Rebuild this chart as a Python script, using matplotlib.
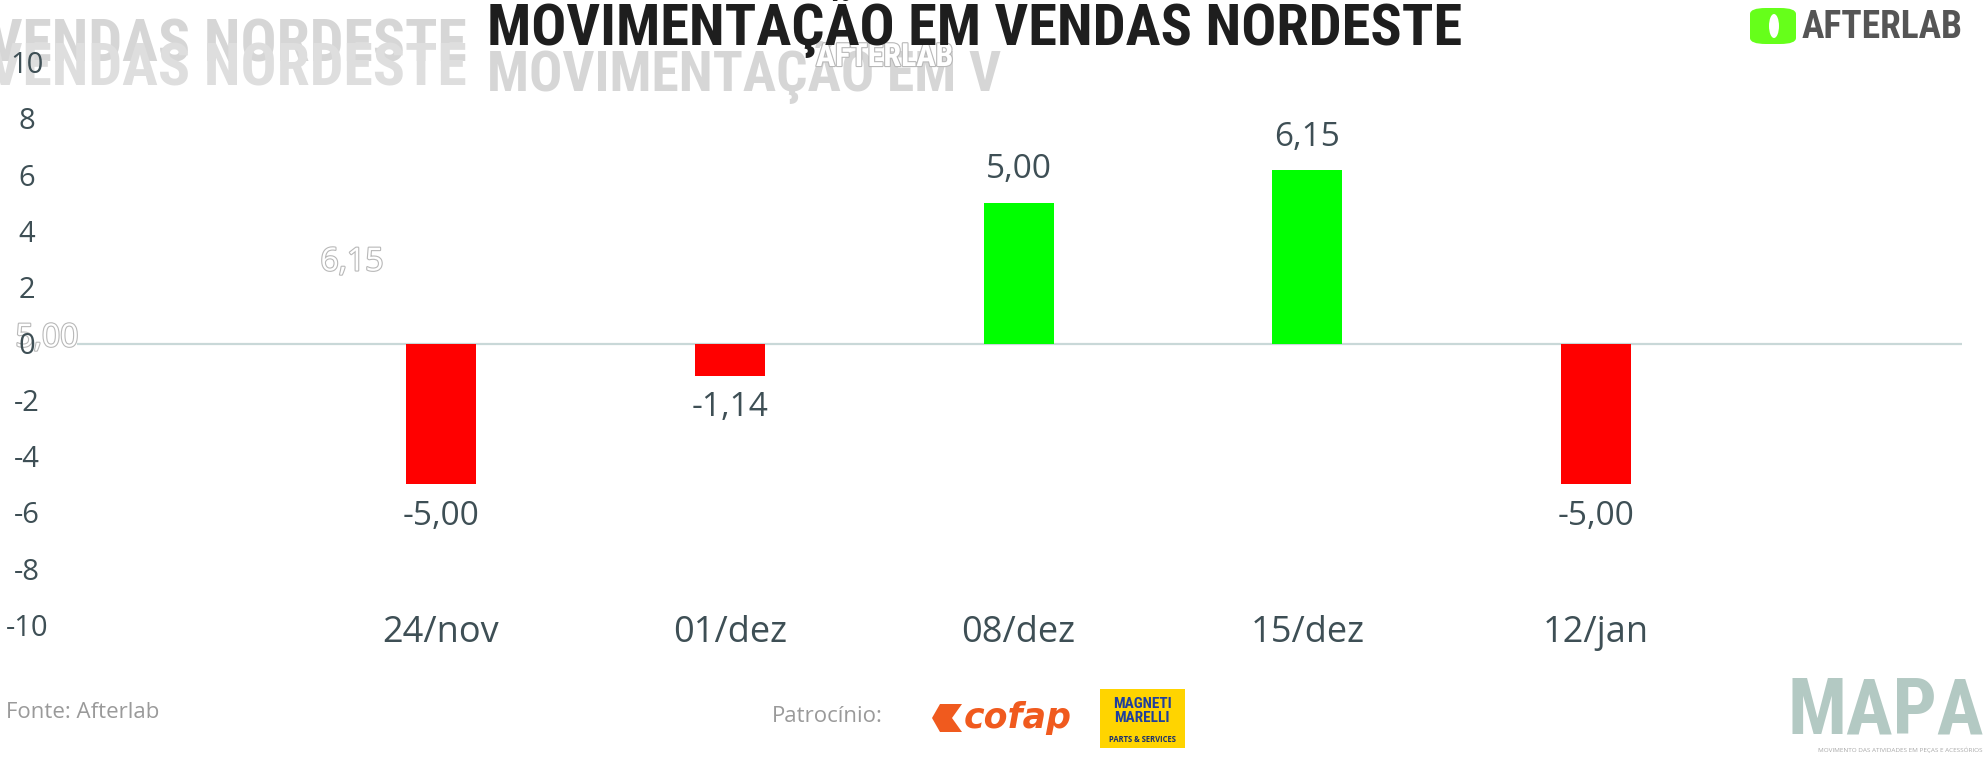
import matplotlib
matplotlib.use("Agg")
import matplotlib.pyplot as plt
from matplotlib import font_manager
from matplotlib.patches import FancyBboxPatch, Rectangle, Polygon, Ellipse
import matplotlib.patheffects as pe

# ---------------- data ----------------
categories = ["24/nov", "01/dez", "08/dez", "15/dez", "12/jan"]
values = [-5.00, -1.14, 5.00, 6.15, -5.00]
value_labels = ["-5,00", "-1,14", "5,00", "6,15", "-5,00"]
y_ticks = [-10, -8, -6, -4, -2, 0, 2, 4, 6, 8, 10]

title = "MOVIMENTAÇÃO EM VENDAS NORDESTE"
ghost_title_a = "VENDAS NORDESTE"
ghost_title_b = "MOVIMENTAÇÃO EM V"
brand = "AFTERLAB"
source_text = "Fonte: Afterlab"
sponsor_text = "Patrocínio:"
mapa_text = "MAPA"
mapa_sub = "MOVIMENTO DAS ATIVIDADES EM PEÇAS E ACESSÓRIOS"

# ---------------- style ----------------
W, H, DPI = 1984, 757, 100
TEXT = "#3e4f55"
RED = "#ff0000"
GREEN = "#00ff00"

available = {f.name for f in font_manager.fontManager.ttflist}
BODY = "Open Sans" if "Open Sans" in available else "DejaVu Sans"
COND = next((f for f in ["Liberation Sans Narrow", "Roboto Condensed", "Roboto"] if f in available), "DejaVu Sans")

fig = plt.figure(figsize=(W / DPI, H / DPI), dpi=DPI)
fig.patch.set_facecolor("white")


def fx(x):
    return x / W


def fy(y):
    return 1 - y / H


# ---------------- ghosts (behind the chart) ----------------
ghost_fx = [pe.withStroke(linewidth=1.6, foreground="#b8b8b8")]
fig.text(fx(-12), fy(46), ghost_title_a, fontsize=43, color="#d6d6d6", family=COND,
         weight="bold", ha="left", va="center", zorder=-2)
fig.text(fx(-12), fy(70), ghost_title_a, fontsize=43, color="#dedede", family=COND,
         weight="bold", ha="left", va="center", zorder=-2)
fig.text(fx(487), fy(72), ghost_title_b, fontsize=40, color="#d6d6d6", family=COND,
         weight="bold", ha="left", va="center", zorder=-2)
fig.text(fx(816), fy(57), brand, fontsize=23, color="white", family=COND,
         weight="bold", ha="left", va="center", path_effects=ghost_fx, zorder=-1)
fig.text(fx(352), fy(262), "6,15", fontsize=23, color="white", family=BODY,
         ha="center", va="center", path_effects=ghost_fx, zorder=-1)
fig.text(fx(47), fy(338), "5,00", fontsize=23, color="white", family=BODY,
         ha="center", va="center", path_effects=ghost_fx, zorder=-1)

# ---------------- axes ----------------
ax_left, ax_right, ax_top, ax_bottom = 77, 1962, 62, 625
ax = fig.add_axes([fx(ax_left), fy(ax_bottom), (ax_right - ax_left) / W, (ax_bottom - ax_top) / H])
ax.set_facecolor("none")

x = list(range(len(categories)))
step_px = (1596 - 441) / (len(categories) - 1)
ax.set_xlim(-(441 - ax_left) / step_px, (len(categories) - 1) + (ax_right - 1596) / step_px)
ax.set_ylim(-10, 10)

colors = [GREEN if v >= 0 else RED for v in values]
bars = ax.bar(x, values, width=70 / step_px, color=colors, zorder=2)
ax.axhline(0, color="#c9d8d8", lw=1.6, zorder=1)

for b, v, lab in zip(bars, values, value_labels):
    ax.annotate(lab, (b.get_x() + b.get_width() / 2, v),
                xytext=(0, 24 if v >= 0 else -23), textcoords="offset points",
                ha="center", va="center", fontsize=24, color=TEXT, family=BODY)

for s in ax.spines.values():
    s.set_visible(False)
ax.set_yticks(y_ticks)
ax.set_yticklabels([str(t) for t in y_ticks], fontsize=21, color=TEXT, family=BODY, ha="center")
ax.tick_params(axis="y", length=0, pad=36)
ax.set_xticks(x)
ax.set_xticklabels(categories, fontsize=26, color=TEXT, family=BODY, va="center")
ax.tick_params(axis="x", length=0, pad=6)

# ---------------- title ----------------
fig.text(fx(487), fy(26), title, fontsize=42, color="#1e1e1e", family=COND,
         weight="bold", ha="left", va="center")

# ---------------- AFTERLAB logo ----------------
logo = FancyBboxPatch((fx(1750), fy(44)), fx(46), 36 / H,
                      boxstyle="round,pad=0,rounding_size=0.008",
                      transform=fig.transFigure, facecolor="#66ff1a", edgecolor="none")
fig.patches.append(logo)
gap = Ellipse((fx(1774), fy(26)), fx(10), 24 / H, transform=fig.transFigure,
              facecolor="white", edgecolor="none")
fig.patches.append(gap)
fig.text(fx(1802), fy(27), brand, fontsize=27, color="#555555", family=COND,
         weight="bold", ha="left", va="center")

# ---------------- footer ----------------
fig.text(fx(6), fy(712), source_text, fontsize=16, color="#9a9a9a", family=BODY,
         ha="left", va="center")
fig.text(fx(772), fy(716), sponsor_text, fontsize=16, color="#9a9a9a", family=BODY,
         ha="left", va="center")

# cofap emblem
ORANGE = "#f05a1e"
emb = Polygon([(fx(932), fy(718)), (fx(940), fy(704)), (fx(962), fy(704)), (fx(952), fy(718)),
               (fx(962), fy(732)), (fx(940), fy(732))],
              closed=True, transform=fig.transFigure, facecolor=ORANGE, edgecolor="none")
fig.patches.append(emb)
fig.text(fx(964), fy(718), "cofap", fontsize=25, color=ORANGE, family="DejaVu Sans",
         weight="bold", style="italic", ha="left", va="center")

# Magneti Marelli
mm = Rectangle((fx(1100), fy(748)), fx(85), 59 / H, transform=fig.transFigure,
               facecolor="#ffd400", edgecolor="none")
fig.patches.append(mm)
fig.text(fx(1142), fy(711), "MAGNETI\nMARELLI", fontsize=11, color="#1f3f9e", family=COND,
         weight="bold", ha="center", va="center", linespacing=0.95)
fig.text(fx(1142), fy(740), "PARTS & SERVICES", fontsize=5.5, color="#1a2f6e", family=BODY,
         weight="bold", ha="center", va="center")

# MAPA
fig.text(fx(1886), fy(733), mapa_text, fontsize=56, color="#b3c9c3", family=COND,
         weight="bold", ha="center", va="baseline")
fig.text(fx(1900), fy(750), mapa_sub, fontsize=4.6, color="#a8a8a8", family=BODY,
         ha="center", va="center")

fig.savefig("out.png", dpi=DPI, facecolor="white")
